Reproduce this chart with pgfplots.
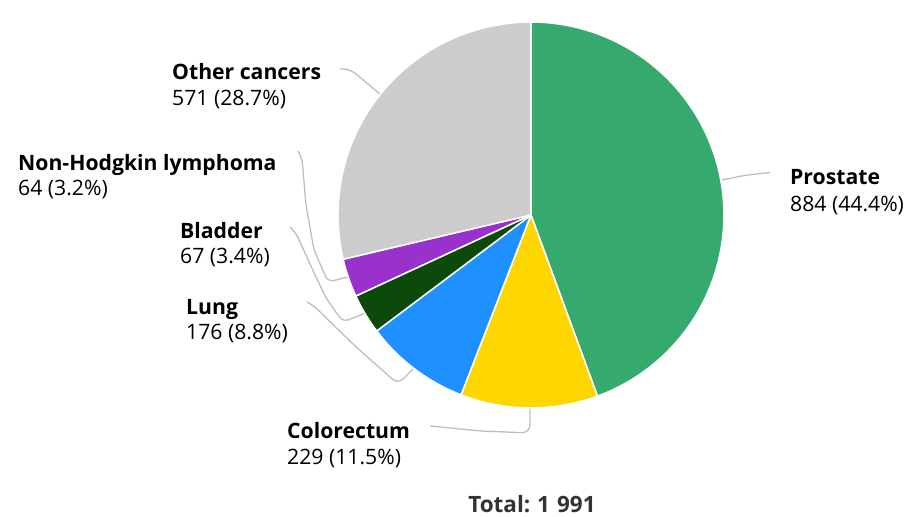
\documentclass[border=0pt]{standalone}
\usepackage{pgfplots}
\pgfplotsset{compat=1.18}
\usepackage{fontspec}
\IfFontExistsTF{Open Sans Bold}
  {\setmainfont{Open Sans}[BoldFont={Open Sans Bold}]}
  {\IfFontExistsTF{NotoSans-Bold.ttf}
     {\setmainfont{NotoSans-Regular.ttf}[BoldFont={NotoSans-Bold.ttf}]}
     {\setmainfont{Noto Sans}[BoldFont={Noto Sans}, BoldFeatures={FakeBold=2.5}]}}
\definecolor{cProstate}{RGB}{54,169,110}
\definecolor{cColo}{RGB}{255,215,0}
\definecolor{cLung}{RGB}{30,144,255}
\definecolor{cBladder}{RGB}{11,74,11}
\definecolor{cNHL}{RGB}{153,50,204}
\definecolor{cOther}{RGB}{204,204,204}
\definecolor{cLine}{RGB}{190,190,190}
\definecolor{cTotal}{RGB}{51,51,51}
% values
\def\vProstate{884}
\def\vColo{229}
\def\vLung{176}
\def\vBladder{67}
\def\vNHL{64}
\def\vOther{571}
\pgfmathsetmacro\tot{\vProstate+\vColo+\vLung+\vBladder+\vNHL+\vOther}
\pgfmathsetmacro\aA{0}
\pgfmathsetmacro\aB{\aA+360*(\vProstate/\tot)}
\pgfmathsetmacro\aC{\aB+360*(\vColo/\tot)}
\pgfmathsetmacro\aD{\aC+360*(\vLung/\tot)}
\pgfmathsetmacro\aE{\aD+360*(\vBladder/\tot)}
\pgfmathsetmacro\aF{\aE+360*(\vNHL/\tot)}
\pgfmathsetmacro\aG{360}
\newcommand{\slice}[3]{%
  \addplot[fill=#3, draw=white, line width=1.5pt, domain=#1:#2, samples=80, line join=round]
    ({531+193*sin(x)},{215-193*cos(x)}) -- (531,215) -- cycle;}
\begin{document}
\begin{tikzpicture}
\begin{axis}[
  width=904pt, height=517pt, scale only axis,
  xmin=0, xmax=904, ymin=0, ymax=517, y dir=reverse,
  hide axis, clip=false,
]
\addplot[draw=none] coordinates {(0,0) (904,517)};
% connectors
\addplot[cLine, line width=1.3pt, smooth, tension=0.5] coordinates {(722,180) (745,175.5) (770,172.5)};
\addplot[cLine, line width=1.3pt, rounded corners=7pt] coordinates {(340,69) (350,69) (380,94)};
\addplot[cLine, line width=1.3pt, rounded corners=6pt] coordinates {(298,151) (302,158) (306,205) (314,250) (328,282) (348,277)};
\addplot[cLine, line width=1.3pt, rounded corners=6pt] coordinates {(290,227) (296,233) (310,264) (326,298) (343,322) (366,313)};
\addplot[cLine, line width=1.3pt, rounded corners=7pt] coordinates {(307,302) (313,305) (355,346) (398,384) (414,368)};
\addplot[cLine, line width=1.3pt, rounded corners=8pt] coordinates {(530,406) (530,433) (480,431) (430,426)};
% slices
\slice{\aA}{\aB}{cProstate}
\slice{\aB}{\aC}{cColo}
\slice{\aC}{\aD}{cLung}
\slice{\aD}{\aE}{cBladder}
\slice{\aE}{\aF}{cNHL}
\slice{\aF}{\aG}{cOther}
% labels
\tikzset{lab/.style={anchor=base west, inner sep=0pt, font=\fontsize{21.2}{25}\selectfont, text=black}}
\node[lab] at (790,185) {\textbf{Prostate}};
\node[lab] at (790,212) {884 (44.4\%)};
\node[lab] at (172,80) {\textbf{Other cancers}};
\node[lab] at (172,106) {571 (28.7\%)};
\node[lab] at (18,171) {\textbf{Non-Hodgkin lymphoma}};
\node[lab] at (18,196) {64 (3.2\%)};
\node[lab] at (180,239) {\textbf{Bladder}};
\node[lab] at (180,264) {67 (3.4\%)};
\node[lab] at (186,315) {\textbf{Lung}};
\node[lab] at (186,340) {176 (8.8\%)};
\node[lab] at (287,439) {\textbf{Colorectum}};
\node[lab] at (287,465) {229 (11.5\%)};
\node[anchor=base, inner sep=0pt, font=\fontsize{22.5}{26}\selectfont\bfseries, text=cTotal] at (532,513) {Total:\hspace{0.3em}1\hspace{0.32em}991};
\end{axis}
\end{tikzpicture}
\end{document}
